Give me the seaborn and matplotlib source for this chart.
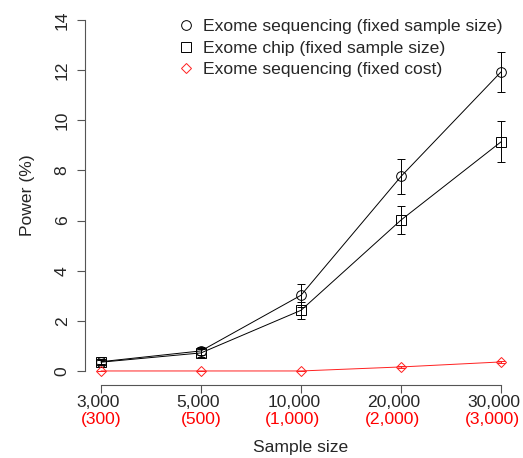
import matplotlib
matplotlib.use("Agg")
import matplotlib.pyplot as plt
import matplotlib.transforms as mtransforms
import seaborn as sns
import pandas as pd
import numpy as np

sample_labels = ["3,000", "5,000", "10,000", "20,000", "30,000"]
cost_labels = ["(300)", "(500)", "(1,000)", "(2,000)", "(3,000)"]
seq_power = [0.37, 0.80, 3.02, 7.76, 11.93]
seq_err = [0.10, 0.15, 0.45, 0.70, 0.80]
chip_power = [0.35, 0.72, 2.42, 6.02, 9.14]
chip_err = [0.10, 0.15, 0.33, 0.56, 0.82]
cost_power = [0.0, 0.0, 0.0, 0.16, 0.36]
cost_err = [0.0, 0.0, 0.0, 0.04, 0.05]
series_names = ["Exome sequencing (fixed sample size)",
                "Exome chip (fixed sample size)",
                "Exome sequencing (fixed cost)"]

sns.set_style("ticks")
plt.rcParams['font.family'] = ['Liberation Sans', 'DejaVu Sans']
FS = 12.6

fig = plt.figure(figsize=(5.23, 4.58), dpi=100)
ax = fig.add_axes([85/523, 1-385/458, (517-85)/523, (385-6)/458])

pos = np.arange(len(sample_labels))
specs = [
    (seq_power, seq_err, "black", "o", 7),
    (chip_power, chip_err, "black", "s", 6.5),
    (cost_power, cost_err, "#ff2020", "D", 5.5),
]
handles = []
for name, (vals, err, col, mk, ms) in zip(series_names, specs):
    df = pd.DataFrame({"x": pos, "y": vals})
    sns.lineplot(data=df, x="x", y="y", ax=ax, color=col, lw=0.7,
                 marker=mk, markersize=ms, markerfacecolor="none",
                 markeredgecolor=col, markeredgewidth=0.7)
    ax.errorbar(pos, vals, yerr=err, fmt="none", ecolor=col, elinewidth=0.7,
                capsize=3, capthick=0.7)
    h, = ax.plot([], [], linestyle="none", marker=mk, markersize=ms,
                 markerfacecolor="none", markeredgecolor=col, markeredgewidth=0.7)
    handles.append(h)

ax.set_xlim(-0.16, 4.16)
ax.set_ylim(-0.56, 14.56)
ax.set_yticks(np.arange(0, 15, 2))
ax.set_yticklabels([str(v) for v in range(0, 15, 2)], rotation=90, va="center")
ax.set_xticks(pos)
ax.set_xticklabels(sample_labels)

for s in ["top", "right"]:
    ax.spines[s].set_visible(False)
ax.spines["left"].set_bounds(0, 14)
ax.spines["bottom"].set_bounds(0, 4)
for s in ["left", "bottom"]:
    ax.spines[s].set_color("#555555")
    ax.spines[s].set_linewidth(0.8)
ax.tick_params(axis="both", length=6, width=0.8, color="#555555", labelsize=FS)
ax.tick_params(axis="x", pad=1)
ax.tick_params(axis="y", pad=5)

# slight leftward shift of the wider labels, as in the reference
for lab in ax.get_xticklabels():
    dx = -7 if len(lab.get_text()) > 5 else -2.5
    lab.set_transform(lab.get_transform() +
                      mtransforms.ScaledTranslation(dx / 100, 0, fig.dpi_scale_trans))
for i, lab in enumerate(cost_labels):
    dx = -8 if len(lab) > 5 else 0
    ax.annotate(lab, xy=(pos[i], 0), xycoords=("data", "axes fraction"),
                xytext=(dx * 0.72, -24.5), textcoords="offset points",
                ha="center", va="center", color="red", fontsize=FS)

ax.set_xlabel("Sample size", fontsize=FS, labelpad=22)
ax.set_ylabel("Power (%)", fontsize=FS, labelpad=14)

ax.legend(handles, series_names, loc="upper left", bbox_to_anchor=(177/523, 1-19/458),
          bbox_transform=fig.transFigure, frameon=False, fontsize=FS,
          handlelength=1.0, handletextpad=0.5, labelspacing=0.35, borderpad=0,
          borderaxespad=0)

fig.savefig("out.png", dpi=100)
